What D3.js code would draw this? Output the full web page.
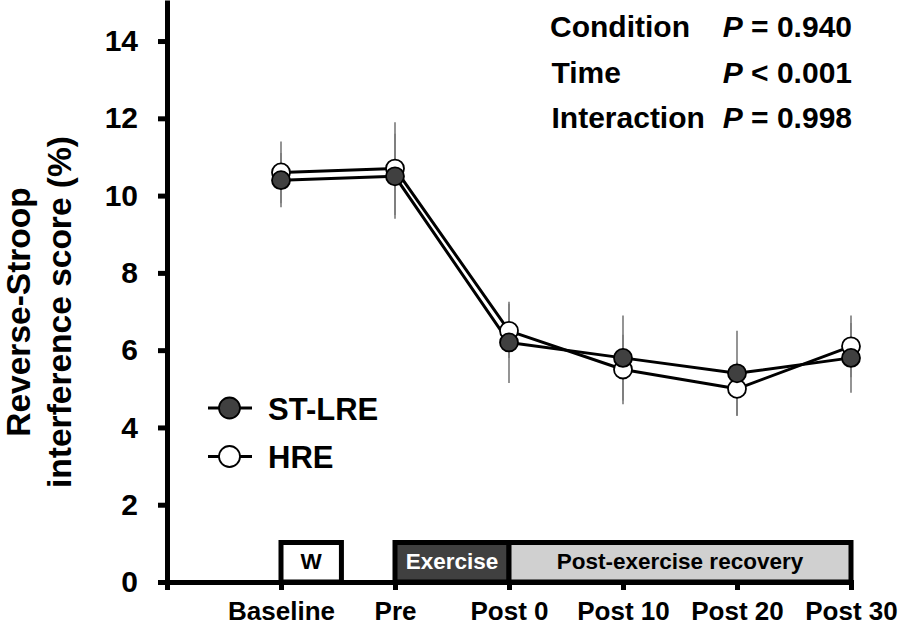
<!DOCTYPE html>
<html>
<head>
<meta charset="utf-8">
<script src="https://cdn.jsdelivr.net/npm/d3@7"></script>
<style>
  html, body { margin: 0; padding: 0; background: #fff; }
  svg { display: block; font-family: "Liberation Sans", Arial, sans-serif; font-weight: bold; }
</style>
</head>
<body>
<svg id="chart" width="898" height="632"></svg>
<script>
// ---- data ----
const timepoints = ["Baseline", "Pre", "Post 0", "Post 10", "Post 20", "Post 30"];
const stlreMean = [10.4, 10.5, 6.2, 5.8, 5.4, 5.8];
const stlreSD   = [0.7, 1.1, 1.05, 1.1, 1.1, 0.9];
const hreMean   = [10.6, 10.7, 6.5, 5.5, 5.0, 6.1];
const hreSD     = [0.8, 1.2, 0.7, 0.9, 0.7, 0.8];
const yTicks = [0, 2, 4, 6, 8, 10, 12, 14];
const seriesNames = ["ST-LRE", "HRE"];
const statLabels = ["Condition", "Time", "Interaction"];
const statOps = ["=", "<", "="];
const statValues = ["0.940", "0.001", "0.998"];
const phaseLabels = ["W", "Exercise", "Post-exercise recovery"];
const phaseStart = [1, 2, 3];
const phaseEnd = [1.53, 3, 6];
const yTitleLines = ["Reverse-Stroop", "interference score (%)"];

// ---- setup ----
const svg = d3.select("#chart");
const x = d3.scaleLinear().domain([0, 6]).range([167, 851]);
const y = d3.scaleLinear().domain([0, 15]).range([582, 2.4]);

const fillDark = "#404040";

// phase boxes (drawn before axes so axis covers their bottom)
const phaseFill = ["#ffffff", fillDark, "#d0d0d0"];
const phaseText = ["#000", "#fff", "#000"];
const boxTop = y(0) - 39.5;
phaseLabels.forEach((lab, i) => {
  const x0 = x(phaseStart[i]), x1 = x(phaseEnd[i]);
  svg.append("rect")
    .attr("x", x0).attr("y", boxTop)
    .attr("width", x1 - x0).attr("height", y(0) - boxTop)
    .attr("fill", phaseFill[i]).attr("stroke", "#000").attr("stroke-width", 5);
  svg.append("text")
    .attr("x", (x0 + x1) / 2).attr("y", 569)
    .attr("text-anchor", "middle")
    .attr("font-size", 22.5)
    .attr("fill", phaseText[i])
    .text(lab);
});

// axes
const yAxis = d3.axisLeft(y).tickValues(yTicks).tickSize(9).tickSizeOuter(0).tickPadding(20);
const gy = svg.append("g").attr("transform", `translate(${x(0)},0)`).call(yAxis);
gy.select(".domain").attr("stroke-width", 5).attr("stroke-linecap", "square");
gy.selectAll(".tick line").attr("stroke-width", 5);
gy.selectAll(".tick text").attr("font-size", 30).attr("font-family", "Liberation Sans, Arial, sans-serif").attr("font-weight", "bold").attr("fill", "#000");

const xAxis = d3.axisBottom(x).tickValues([0, 1, 2, 3, 4, 5, 6])
  .tickFormat(d => d === 0 ? "" : timepoints[d - 1])
  .tickSize(8).tickSizeOuter(0).tickPadding(12);
const gx = svg.append("g").attr("transform", `translate(0,${y(0)})`).call(xAxis);
gx.select(".domain").attr("stroke-width", 5).attr("stroke-linecap", "square");
gx.selectAll(".tick line").attr("stroke-width", 5);
gx.selectAll(".tick text").attr("font-size", 26).attr("font-family", "Liberation Sans, Arial, sans-serif").attr("font-weight", "bold").attr("fill", "#000");

// y title
const yt = svg.append("text")
  .attr("transform", `translate(0,312) rotate(-90)`)
  .attr("text-anchor", "middle")
  .attr("font-size", 33.5);
yt.append("tspan").attr("x", 0).attr("y", 29.5).text(yTitleLines[0]);
yt.append("tspan").attr("x", 0).attr("y", 71).text(yTitleLines[1]);

// series
const series = [
  { name: seriesNames[1], mean: hreMean, sd: hreSD, fill: "#ffffff" },
  { name: seriesNames[0], mean: stlreMean, sd: stlreSD, fill: fillDark }
];

// error bars
series.forEach(s => {
  svg.append("g").selectAll("line").data(s.mean).join("line")
    .attr("x1", (d, i) => x(i + 1)).attr("x2", (d, i) => x(i + 1))
    .attr("y1", (d, i) => y(d - s.sd[i])).attr("y2", (d, i) => y(d + s.sd[i]))
    .attr("stroke", "#7a7a7a").attr("stroke-width", 1.6);
});

// lines
const line = d3.line().x((d, i) => x(i + 1)).y(d => y(d));
series.forEach(s => {
  svg.append("path").datum(s.mean).attr("d", line)
    .attr("fill", "none").attr("stroke", "#000").attr("stroke-width", 3)
    .attr("stroke-linejoin", "round");
});

// points
series.forEach(s => {
  svg.append("g").selectAll("circle").data(s.mean).join("circle")
    .attr("cx", (d, i) => x(i + 1)).attr("cy", d => y(d))
    .attr("r", 9).attr("fill", s.fill)
    .attr("stroke", "#000").attr("stroke-width", 1.8);
});

// legend
const legendRows = [
  { name: seriesNames[0], fill: fillDark, cy: 408 },
  { name: seriesNames[1], fill: "#ffffff", cy: 456.5 }
];
legendRows.forEach(r => {
  svg.append("line").attr("x1", 208).attr("x2", 252).attr("y1", r.cy).attr("y2", r.cy)
    .attr("stroke", "#000").attr("stroke-width", 3);
  svg.append("circle").attr("cx", 229.5).attr("cy", r.cy).attr("r", 10.5)
    .attr("fill", r.fill).attr("stroke", "#000").attr("stroke-width", 1.8);
  svg.append("text").attr("x", 268).attr("y", r.cy + 11.5)
    .attr("font-size", 31).text(r.name);
});

// statistics
const statY = [37, 82.5, 128];
statLabels.forEach((lab, i) => {
  svg.append("text").attr("x", i === 0 ? 550 : 551.5).attr("y", statY[i])
    .attr("font-size", 30).text(lab);
  const t = svg.append("text").attr("x", 852).attr("y", statY[i])
    .attr("text-anchor", "end").attr("font-size", 30);
  t.append("tspan").attr("font-style", "italic").text("P");
  t.append("tspan").text(" " + statOps[i] + " " + statValues[i]);
});
</script>
</body>
</html>
